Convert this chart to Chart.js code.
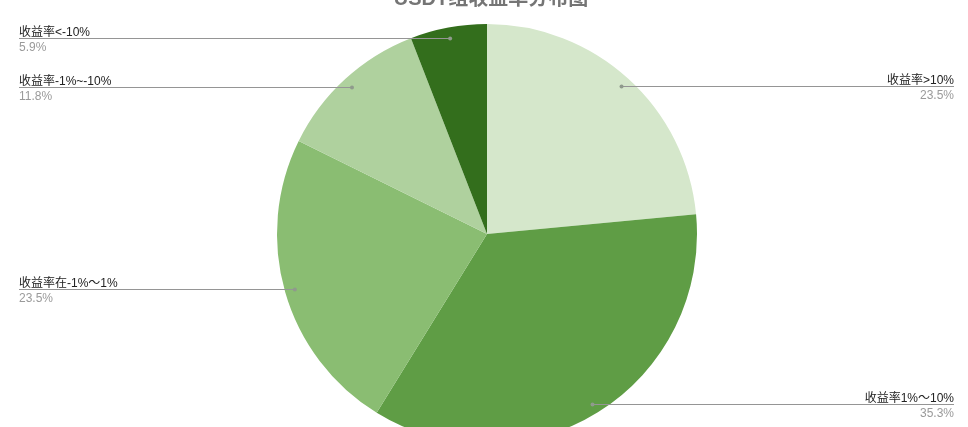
<!DOCTYPE html>
<html>
<head>
<meta charset="utf-8">
<script src="https://cdn.jsdelivr.net/npm/chart.js@4.4.1/dist/chart.umd.min.js"></script>
<style>
  html, body { margin: 0; padding: 0; background: #ffffff; overflow: hidden; width: 968px; height: 427px; }
  canvas { display: block; }
</style>
</head>
<body>
<canvas id="chart" width="968" height="444"></canvas>
<script>
const chartTitle = 'USDT组收益率分布图';
const categories = ['收益率>10%', '收益率1%～10%', '收益率在-1%～1%', '收益率-1%~-10%', '收益率<-10%'];
const shares = [23.5, 35.3, 23.5, 11.8, 5.9];
const sliceColors = ['#d5e7cb', '#5f9d45', '#8abd72', '#afd19e', '#336e1c'];

const FONT = '"Liberation Sans", Arial, "Noto Sans CJK SC", sans-serif';

// Title sits at the very top, partly above the canvas edge
const titlePlugin = {
  id: 'topTitle',
  afterDraw(chart) {
    const ctx = chart.ctx;
    ctx.save();
    ctx.font = 'bold 20px ' + FONT;
    ctx.fillStyle = '#757575';
    ctx.textAlign = 'center';
    ctx.textBaseline = 'alphabetic';
    ctx.fillText(chartTitle, 491, 5);
    ctx.restore();
  }
};

// Leader lines running from a dot inside each slice to the label at the edge
const leaderPlugin = {
  id: 'leaders',
  afterDatasetsDraw(chart) {
    const ctx = chart.ctx;
    const meta = chart.getDatasetMeta(0);
    const W = chart.width;
    ctx.save();
    meta.data.forEach((arc, i) => {
      const p = arc.getProps(['x', 'y', 'startAngle', 'endAngle', 'outerRadius'], true);
      const mid = (p.startAngle + p.endAngle) / 2;
      const r = p.outerRadius * 0.952;
      const dx = p.x + Math.cos(mid) * r;
      const dy = Math.round(p.y + Math.sin(mid) * r) + 0.5;
      const left = dx < p.x;
      const edge = left ? 19 : W - 14;

      ctx.strokeStyle = '#959595';
      ctx.lineWidth = 1;
      ctx.beginPath();
      ctx.moveTo(dx, dy);
      ctx.lineTo(edge, dy);
      ctx.stroke();

      ctx.fillStyle = '#8f9a8c';
      ctx.beginPath();
      ctx.arc(dx, dy, 2, 0, Math.PI * 2);
      ctx.fill();

      ctx.textAlign = left ? 'left' : 'right';
      ctx.textBaseline = 'alphabetic';
      ctx.font = '12px ' + FONT;
      ctx.fillStyle = '#222222';
      ctx.fillText(categories[i], edge, dy - 3);
      ctx.fillStyle = '#9a9a9a';
      ctx.fillText(shares[i].toFixed(1) + '%', edge, dy + 12);
    });
    ctx.restore();
  }
};

new Chart(document.getElementById('chart'), {
  type: 'pie',
  data: {
    labels: categories,
    datasets: [{
      data: shares,
      backgroundColor: sliceColors,
      borderWidth: 0,
      hoverOffset: 0
    }]
  },
  options: {
    responsive: false,
    animation: false,
    devicePixelRatio: 1,
    layout: { padding: { left: 6, right: 0, top: 24, bottom: 0 } },
    plugins: {
      legend: { display: false },
      tooltip: { enabled: false },
      title: { display: false }
    }
  },
  plugins: [leaderPlugin, titlePlugin]
});
</script>
</body>
</html>
